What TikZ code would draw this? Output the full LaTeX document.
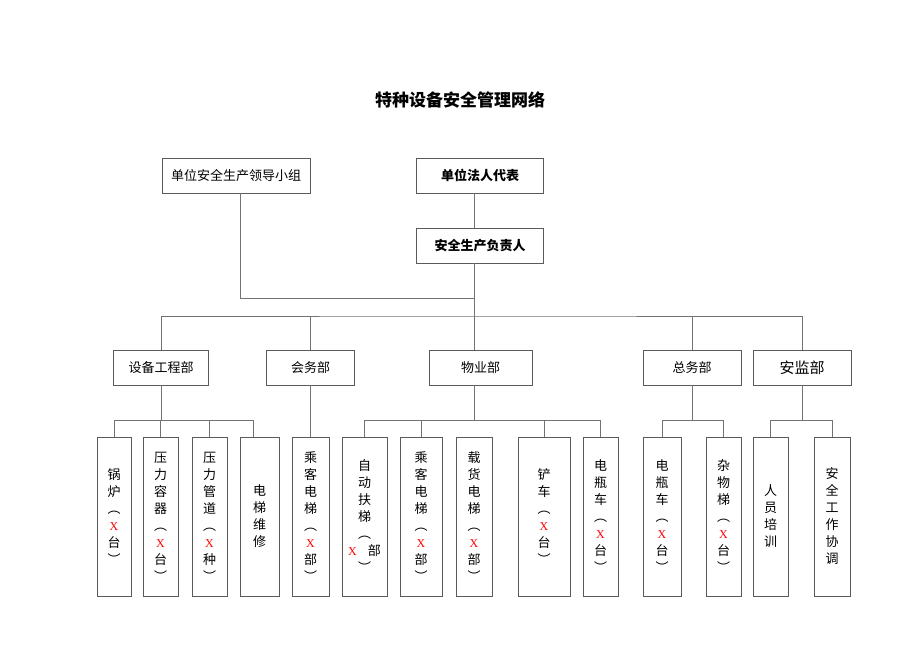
\documentclass[tikz,border=0pt]{standalone}
\usepackage{fontspec}
\setmainfont{Noto Sans CJK SC}
\newfontfamily\xfont{Liberation Serif}
\usetikzlibrary{positioning}

\definecolor{linec}{HTML}{5A5A5A}
\newcommand{\redx}{{\xfont\fontsize{12}{17}\selectfont\color{red}X}}

\tikzset{
  box/.style={draw=linec, line width=0.8pt, inner sep=0pt, minimum height=35pt,
    font=\fontsize{13}{15}\selectfont},
  leaf/.style={draw=linec, line width=0.8pt, inner sep=0pt, minimum height=159pt,
    align=center, font=\fontsize{13}{17}\selectfont},
  conn/.style={draw=linec!85, line width=0.7pt}
}

\begin{document}
\begin{tikzpicture}[x=1pt,y=-1pt]
    \useasboundingbox (0,0) rectangle (920,651);

    % title
    \node (title) at (460,100) {\fontsize{17}{18}\selectfont\bfseries 特种设备安全管理网络};

    % draw top boxes
    \node[box, minimum width=148pt] (lingdao) at (236,175.5) {单位安全生产领导小组};
    \node[box, minimum width=127pt] (faren) at (480,175.5) {\bfseries 单位法人代表};
    \node[box, minimum width=127pt] (fuze) at (480,245.5) {\bfseries 安全生产负责人};

    % draw department boxes
    \node[box, minimum width=95pt]  (sbgc)   at (161,367.5) {设备工程部};
    \node[box, minimum width=88pt]  (huiwu)  at (310.5,367.5) {会务部};
    \node[box, minimum width=103pt] (wuye)   at (480.5,367.5) {物业部};
    \node[box, minimum width=98pt]  (zongwu) at (692,367.5) {总务部};
    \node[box, minimum width=98pt]  (anjian) at (802,367.5) {\fontsize{15}{15}\selectfont 安监部};

    % draw leaf boxes
    \foreach \x/\w/\n/\t in {
        114/34/guolu/{锅\\炉\\︵\\\redx\\台\\︶},
        160.5/35/rongqi/{压\\力\\容\\器\\︵\\\redx\\台\\︶},
        209.5/35/guandao/{压\\力\\管\\道\\︵\\\redx\\种\\︶},
        259.5/39/weixiu/{电\\梯\\维\\修},
        310.5/37/chengkeA/{乘\\客\\电\\梯\\︵\\\redx\\部\\︶},
        364.5/45/futi/{自\\动\\扶\\梯\\︵\\\redx\hspace{11pt}部\\︶},
        421/42/chengkeB/{乘\\客\\电\\梯\\︵\\\redx\\部\\︶},
        474/36/zaihuo/{载\\货\\电\\梯\\︵\\\redx\\部\\︶},
        544/52/chanche/{铲\\车\\︵\\\redx\\台\\︶},
        600.5/35/dianpingA/{电\\瓶\\车\\︵\\\redx\\台\\︶},
        662/38/dianpingB/{电\\瓶\\车\\︵\\\redx\\台\\︶},
        723.5/35/zawu/{杂\\物\\梯\\︵\\\redx\\台\\︶},
        770.5/35/peixun/{人\\员\\培\\训},
        832/36/xietiao/{安\\全\\工\\作\\协\\调}}
      \node[leaf, minimum width=\w pt] (\n) at (\x,516.5) {\t};

    % draw upper connectors
    \coordinate (j1) at (474,298);
    \coordinate (bus) at (474,316);
    \coordinate (b) at (0,420);
    \coordinate (lg) at ([xshift=4pt]lingdao.south);
    \draw[conn] (faren.south -| bus) -- (fuze.north -| bus);
    \draw[conn] (lg) |- (j1);
    \draw[conn] (fuze.south -| bus) -- (wuye.north -| bus);
    \draw[conn] (sbgc) |- (bus) -| (anjian);
    \foreach \n in {huiwu, zongwu}
      \draw[conn] (\n) -- (\n |- bus);

    % draw lower connectors
    \coordinate (wx) at ([xshift=-6pt]weixiu.north);
    \draw[conn] (sbgc) -- (sbgc |- b);
    \draw[conn] (guolu) |- (wx |- b) -- (wx);
    \foreach \n in {rongqi, guandao}
      \draw[conn] (\n) -- (\n |- b);
    \draw[conn] (huiwu) -- (chengkeA);
    \draw[conn] (wuye.south -| bus) -- (bus |- b);
    \draw[conn] (futi) |- (dianpingA |- b) -- (dianpingA);
    \foreach \n in {chengkeB, chanche}
      \draw[conn] (\n) -- (\n |- b);
    \draw[conn] (zongwu) -- (zongwu |- b);
    \draw[conn] (dianpingB) |- (zawu |- b) -- (zawu);
    \draw[conn] (anjian) -- (anjian |- b);
    \draw[conn] (peixun) |- (xietiao |- b) -- (xietiao);
\end{tikzpicture}
\end{document}
